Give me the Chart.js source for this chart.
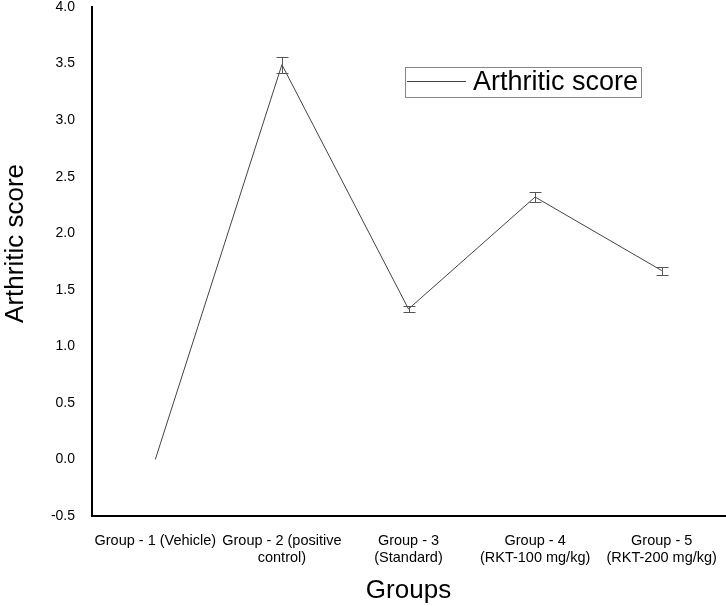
<!DOCTYPE html>
<html>
<head>
<meta charset="utf-8">
<script src="https://cdn.jsdelivr.net/npm/chart.js@4/dist/chart.umd.min.js"></script>
<style>
  html, body { margin: 0; padding: 0; background: #fff; }
  #wrap { width: 726px; height: 606px; }
</style>
</head>
<body>
<div id="wrap"><canvas id="chart"></canvas></div>
<script>
var groups = [
    ['Group - 1 (Vehicle)'],
    ['Group - 2 (positive', 'control)'],
    ['Group - 3', '(Standard)'],
    ['Group - 4', '(RKT-100 mg/kg)'],
    ['Group - 5', '(RKT-200 mg/kg)']
];
var scores = [0, 3.49, 1.33, 2.32, 1.67];
var errors = [0, 0.07, 0.03, 0.045, 0.035];
var seriesName = 'Arthritic score';

var FONT = '"Liberation Sans", Arial, sans-serif';

// error bars, drawn through the chart's own scales
var errorBars = {
    id: 'errorBars',
    afterDatasetsDraw: function(chart) {
        var ctx = chart.ctx;
        var x = chart.scales.x, y = chart.scales.y;
        ctx.save();
        ctx.strokeStyle = '#555';
        ctx.lineWidth = 1;
        scores.forEach(function(v, i) {
            if (!errors[i]) return;
            var px = Math.round(x.getPixelForValue(i)) + 0.5;
            var top = Math.round(y.getPixelForValue(v + errors[i])) + 0.5;
            var bot = Math.round(y.getPixelForValue(v - errors[i])) + 0.5;
            ctx.beginPath();
            ctx.moveTo(px, top); ctx.lineTo(px, bot);
            ctx.moveTo(px - 6, top); ctx.lineTo(px + 6, top);
            ctx.moveTo(px - 6, bot); ctx.lineTo(px + 6, bot);
            ctx.stroke();
        });
        ctx.restore();
    }
};

// boxed legend inside the plot
var boxLegend = {
    id: 'boxLegend',
    afterDraw: function(chart) {
        var ctx = chart.ctx;
        var a = chart.chartArea;
        var left = a.left + 313, top = a.top + 60, w = 236, h = 30;
        ctx.save();
        ctx.strokeStyle = '#888';
        ctx.lineWidth = 1;
        ctx.strokeRect(left + 0.5, top + 0.5, w, h);
        ctx.strokeStyle = '#444';
        ctx.beginPath();
        ctx.moveTo(left + 2, top + 14.5);
        ctx.lineTo(left + 61, top + 14.5);
        ctx.stroke();
        ctx.fillStyle = '#000';
        ctx.font = '27px ' + FONT;
        ctx.textBaseline = 'middle';
        ctx.fillText(seriesName, left + 68, top + 16);
        ctx.restore();
    }
};

var config = {
    type: 'line',
    data: {
        labels: groups,
        datasets: [{
            label: seriesName,
            data: scores,
            borderColor: '#444',
            borderWidth: 1,
            pointRadius: 0,
            tension: 0,
            fill: false
        }]
    },
    options: {
        responsive: true,
        maintainAspectRatio: false,
        animation: false,
        layout: { padding: { top: 7, right: 1, left: 0, bottom: 0 } },
        plugins: {
            legend: { display: false },
            tooltip: { enabled: false }
        },
        scales: {
            x: {
                offset: true,
                grid: { display: false, drawTicks: false },
                border: { display: true, color: '#000', width: 2 },
                ticks: {
                    color: '#000',
                    font: { family: FONT, size: 14.5, lineHeight: 1.17 },
                    maxRotation: 0,
                    autoSkip: false,
                    padding: 17
                },
                title: {
                    display: true,
                    text: 'Groups',
                    color: '#000',
                    font: { family: FONT, size: 26 },
                    padding: { top: 10, bottom: 0 }
                },
                afterFit: function(s) {
                    s.height = 90;
                    s.paddingTop = 0; s.paddingBottom = 0;
                    s.paddingLeft = 0; s.paddingRight = 0;
                }
            },
            y: {
                min: -0.5,
                max: 4,
                grid: { display: false, drawTicks: false },
                border: { display: true, color: '#000', width: 2 },
                ticks: {
                    stepSize: 0.5,
                    color: '#000',
                    font: { family: FONT, size: 14 },
                    padding: 17,
                    callback: function(v) { return v.toFixed(1); }
                },
                title: {
                    display: true,
                    text: '     Arthritic score',
                    color: '#000',
                    font: { family: FONT, size: 26 },
                    padding: { top: 0, bottom: 8 }
                },
                afterFit: function(s) {
                    s.width = 92;
                    s.paddingTop = 0; s.paddingBottom = 0;
                }
            }
        }
    },
    plugins: [errorBars, boxLegend]
};

window.onload = function() {
    var ctx = document.getElementById('chart').getContext('2d');
    window.myLine = new Chart(ctx, config);
};
</script>
</body>
</html>
